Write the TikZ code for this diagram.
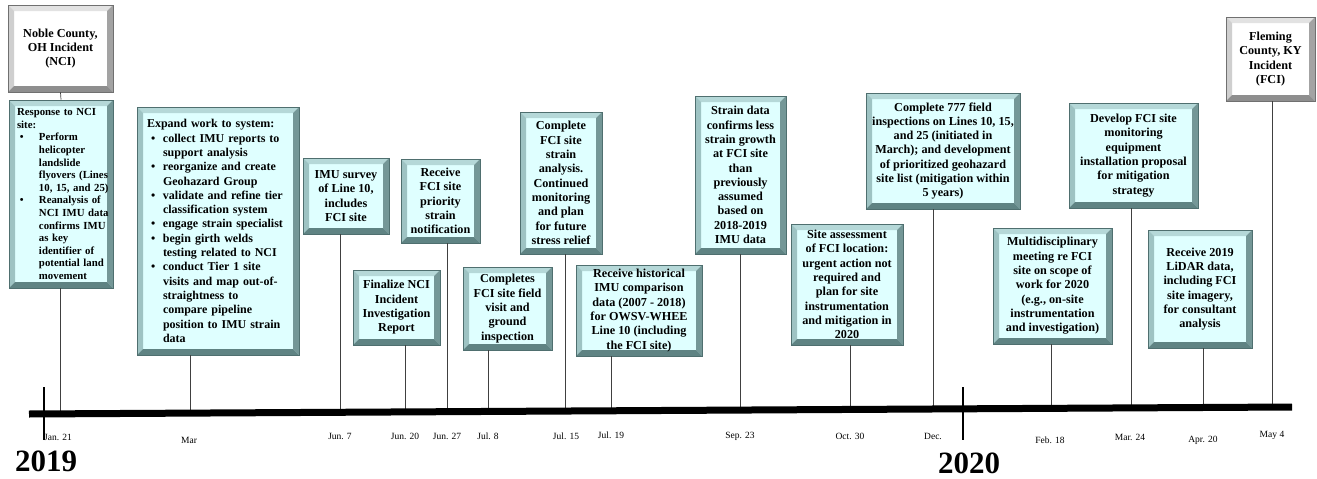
\documentclass[tikz,border=0pt]{standalone}
\usepackage{fontspec}
\setmainfont{Liberation Serif}
\definecolor{cyanF}{HTML}{DFFFFF}
\definecolor{cT}{HTML}{B5D8D8}
\definecolor{cL}{HTML}{9EC3C3}
\definecolor{cR}{HTML}{749797}
\definecolor{cB}{HTML}{5F8383}
\definecolor{cE}{HTML}{4F6F6F}
\definecolor{gT}{HTML}{E2E2E2}
\definecolor{gL}{HTML}{CFCFCF}
\definecolor{gR}{HTML}{A3A3A3}
\definecolor{gB}{HTML}{8E8E8E}
\definecolor{gE}{HTML}{707070}
\newcommand\nl{\hfil\break}
\newcommand\bul[3]{\par\noindent\hangindent=#1\hangafter=1\makebox[#1][l]{\hspace{#2}\textbullet}#3}
\tikzset{
  bevel/.style n args={4}{path picture={
     \path (path picture bounding box.north west) coordinate (pnw)
           (path picture bounding box.north east) coordinate (pne)
           (path picture bounding box.south west) coordinate (psw)
           (path picture bounding box.south east) coordinate (pse);
     \fill[#1] (pnw) -- (pne) -- ([xshift=-6pt,yshift=-6pt]pne) -- ([xshift=6pt,yshift=-6pt]pnw) -- cycle;
     \fill[#2] (pnw) -- (psw) -- ([xshift=6pt,yshift=6pt]psw) -- ([xshift=6pt,yshift=-6pt]pnw) -- cycle;
     \fill[#3] (pne) -- (pse) -- ([xshift=-6pt,yshift=6pt]pse) -- ([xshift=-6pt,yshift=-6pt]pne) -- cycle;
     \fill[#4] (psw) -- (pse) -- ([xshift=-6pt,yshift=6pt]pse) -- ([xshift=6pt,yshift=6pt]psw) -- cycle;
  }},
  evbox/.style={draw=cE, line width=0.6pt, fill=cyanF, bevel={cT}{cL}{cR}{cB}, inner sep=0pt, align=center,
     font=\bfseries\fontsize{12.2}{14.3}\selectfont},
  hdbox/.style={evbox, draw=gE, fill=white, bevel={gT}{gL}{gR}{gB}},
  conn/.style={draw=black!75, line width=0.7pt},
  datelab/.style={font=\fontsize{9.5}{11}\selectfont, inner sep=0pt},
  yearlab/.style={font=\bfseries\fontsize{31}{34}\selectfont, inner sep=0pt},
  timeline/.style={line width=7pt},
  yearmark/.style={line width=2.6pt},
}
\begin{document}
\begin{tikzpicture}[x=1pt,y=-1pt]
\useasboundingbox (0,0) rectangle (1317,479);

% ---------- header boxes ----------
\node[hdbox, minimum width=105, minimum height=87] (nci) at (60.5,48.5) {Noble County,\\OH Incident\\(NCI)};
\node[hdbox, minimum width=89, minimum height=84] (fci) at (1270.5,59) {Fleming\\County, KY\\Incident\\(FCI)};

% ---------- event boxes ----------
\node[evbox, minimum width=104, minimum height=188, align=left, text width=100pt, inner xsep=2pt,
      font=\bfseries\fontsize{10.8}{12.6}\selectfont] (resp) at (61,194)
 {\hspace*{6pt}Response to NCI\nl\hspace*{6pt}site:%
  \bul{28pt}{9pt}{\mbox{Perform}\nl\mbox{helicopter}\nl\mbox{landslide}\nl\mbox{flyovers (Lines}\nl\mbox{10, 15, and 25)}}%
  \bul{28pt}{9pt}{\mbox{Reanalysis of}\nl\mbox{NCI IMU data}\nl\mbox{confirms IMU}\nl\mbox{as key}\nl\mbox{identifier of}\nl\mbox{potential land}\nl\mbox{movement}}\par};

\node[evbox, minimum width=162, minimum height=248, align=left, text width=144pt, inner xsep=9pt,
      font=\bfseries\fontsize{12}{14.3}\selectfont] (expand) at (218,231)
 {\hspace*{1pt}Expand work to system:%
  \bul{17pt}{5pt}{collect IMU reports to\nl support analysis}%
  \bul{17pt}{5pt}{reorganize and create\nl Geohazard Group}%
  \bul{17pt}{5pt}{validate and refine tier\nl classification system}%
  \bul{17pt}{5pt}{engage strain specialist}%
  \bul{17pt}{5pt}{begin girth welds\nl testing related to NCI}%
  \bul{17pt}{5pt}{conduct Tier 1 site\nl visits and map out-of-\nl straightness to\nl compare pipeline\nl position to IMU strain\nl data}\par};

\node[evbox, minimum width=86, minimum height=76] (imu) at (346,196) {IMU survey\\of Line 10,\\includes\\FCI site};
\node[evbox, minimum width=87, minimum height=75] (finalize) at (396.5,307.5) {Finalize NCI\\Incident\\Investigation\\Report};
\node[evbox, minimum width=79, minimum height=84] (priority) at (440.5,201) {Receive\\FCI site\\priority\\strain\\notification};
\node[evbox, minimum width=89, minimum height=83] (completes) at (507.5,308.5) {Completes\\FCI site field\\visit and\\ground\\inspection};
\node[evbox, minimum width=82, minimum height=142] (sa) at (561,183) {Complete\\FCI site\\strain\\analysis.\\Continued\\monitoring\\and plan\\for future\\stress relief};
\node[evbox, minimum width=126, minimum height=91] (hist) at (639,310.5) {Receive historical\\IMU comparison\\data (2007 - 2018)\\for OWSV-WHEE\\Line 10 (including\\the FCI site)};
\node[evbox, minimum width=91, minimum height=158] (sd) at (740.5,175) {Strain data\\confirms less\\strain growth\\at FCI site\\than\\previously\\assumed\\based on\\2018-2019\\IMU data};
\node[evbox, minimum width=112, minimum height=121] (assess) at (847,284.5) {Site assessment\\of FCI location:\\urgent action not\\required and\\plan for site\\instrumentation\\and mitigation in\\2020};
\node[evbox, minimum width=154, minimum height=116] (c777) at (943,151) {Complete 777 field\\inspections on Lines 10, 15,\\and 25 (initiated in\\March); and development\\of prioritized geohazard\\site list (mitigation within\\5 years)};
\node[evbox, minimum width=119, minimum height=116] (multi) at (1052.5,286) {Multidisciplinary\\meeting re FCI\\site on scope of\\work for 2020\\(e.g., on-site\\instrumentation\\and investigation)};
\node[evbox, minimum width=129, minimum height=105] (develop) at (1133.5,155.5) {Develop FCI site\\monitoring\\equipment\\installation proposal\\for mitigation\\strategy};
\node[evbox, minimum width=104, minimum height=118] (lidar) at (1200,289) {Receive 2019\\LiDAR data,\\including FCI\\site imagery,\\for consultant\\analysis};

% ---------- timeline points ----------
\coordinate (tlA) at (29,414);
\coordinate (tlB) at (1292,407);
\coordinate (tResp) at (60,413.8);
\coordinate (tExpand) at (190,413.1);
\coordinate (tImu) at (340,412.3);
\coordinate (tFinalize) at (405,411.9);
\coordinate (tPriority) at (447,411.7);
\coordinate (tCompletes) at (488,411.5);
\coordinate (tSa) at (565,411.0);
\coordinate (tHist) at (611,410.8);
\coordinate (tSd) at (740,410.1);
\coordinate (tAssess) at (850,409.4);
\coordinate (tC777) at (933,409.0);
\coordinate (tMulti) at (1051,408.3);
\coordinate (tDevelop) at (1131,407.9);
\coordinate (tLidar) at (1203,407.5);
\coordinate (tFci) at (1272,407.1);

% ---------- connectors ----------
\draw[conn] (nci.south) -- (resp.north);
\draw[conn] (resp.south -| tResp) -- (tResp);
\draw[conn] (expand.south -| tExpand) -- (tExpand);
\draw[conn] (imu.south -| tImu) -- (tImu);
\draw[conn] (finalize.south -| tFinalize) -- (tFinalize);
\draw[conn] (priority.south -| tPriority) -- (tPriority);
\draw[conn] (completes.south -| tCompletes) -- (tCompletes);
\draw[conn] (sa.south -| tSa) -- (tSa);
\draw[conn] (hist.south -| tHist) -- (tHist);
\draw[conn] (sd.south -| tSd) -- (tSd);
\draw[conn] (assess.south -| tAssess) -- (tAssess);
\draw[conn] (c777.south -| tC777) -- (tC777);
\draw[conn] (multi.south -| tMulti) -- (tMulti);
\draw[conn] (develop.south -| tDevelop) -- (tDevelop);
\draw[conn] (lidar.south -| tLidar) -- (tLidar);
\draw[conn] (fci.south -| tFci) -- (tFci);

% ---------- timeline ----------
\draw[timeline] (tlA) -- (tlB);
\coordinate (y19a) at (44,387); \coordinate (y19b) at (44,440);
\coordinate (y20a) at (963,387); \coordinate (y20b) at (963,440);
\draw[yearmark] (y19a) -- (y19b);
\draw[yearmark] (y20a) -- (y20b);

% ---------- date labels ----------
\node[datelab] (dResp) at (58,437) {Jan. 21};
\node[datelab] (dExpand) at (189,440) {Mar};
\node[datelab] (dImu) at (340,436) {Jun. 7};
\node[datelab] (dFinalize) at (405,436) {Jun. 20};
\node[datelab] (dPriority) at (447,436) {Jun. 27};
\node[datelab] (dCompletes) at (488,436) {Jul. 8};
\node[datelab] (dSa) at (566,436) {Jul. 15};
\node[datelab] (dHist) at (611,435) {Jul. 19};
\node[datelab] (dSd) at (740,436) {Sep. 23};
\node[datelab] (dAssess) at (850,436) {Oct. 30};
\node[datelab] (dC777) at (933,436) {Dec.};
\node[datelab] (dMulti) at (1050,440) {Feb. 18};
\node[datelab] (dDevelop) at (1130,437) {Mar. 24};
\node[datelab] (dLidar) at (1203,440) {Apr. 20};
\node[datelab] (dFci) at (1272,435) {May 4};

% ---------- years ----------
\node[yearlab] (y2019) at (46,461) {2019};
\node[yearlab] (y2020) at (969,463) {2020};
\end{tikzpicture}
\end{document}
